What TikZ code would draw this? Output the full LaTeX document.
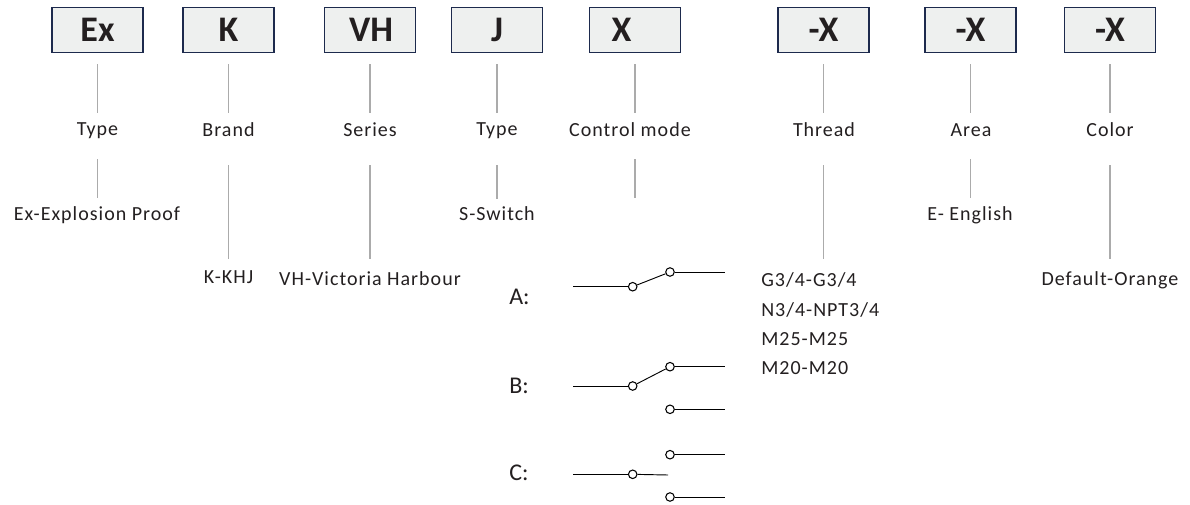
\documentclass[tikz,border=0pt]{standalone}
\usepackage{fontspec}
\setmainfont{Carlito}
\newfontfamily\spacedfont[LetterSpace=5]{Carlito}
\definecolor{boxfill}{HTML}{EEF0EF}
\definecolor{boxedge}{HTML}{1D2A4D}
\definecolor{inkdark}{HTML}{231F20}
\definecolor{leadgray}{HTML}{ABABAB}
\tikzset{
    codebox/.style={draw=boxedge, fill=boxfill, line width=1.1pt, minimum width=68pt, minimum height=34pt, inner sep=0pt},
    codetext/.style={anchor=base, text=inkdark, font=\fontsize{27}{27}\selectfont\bfseries, inner sep=0pt},
    labeltext/.style={anchor=base, text=inkdark, font=\fontsize{15}{18}\spacedfont, inner sep=0pt},
    leftlabel/.style={labeltext, anchor=base west},
    caselabel/.style={anchor=base west, text=inkdark, font=\fontsize{18}{18}\selectfont, inner sep=0pt},
    leadline/.style={draw=leadgray, line width=1pt},
    wireline/.style={draw=black, line width=0.7pt},
    contact/.style={circle, draw=black, fill=white, line width=0.8pt, minimum size=6.4pt, inner sep=0pt},
}
\begin{document}
\begin{tikzpicture}[x=0.75pt, y=-0.75pt]

    \useasboundingbox (0, 0) rectangle (1190, 504);

    % --- Code boxes ---
    \foreach \name/\x in {ex/97.5, k/228.5, vh/370, j/497, x/635, th/823.5, ar/970.5, co/1110} {
        \node[codebox] (box\name) at (\x, 30) {};
    }
    \node[codetext] (codeex) at (97.5, 41.7) {Ex};
    \node[codetext] (codek) at (228.5, 41.7) {K};
    \node[codetext] (codevh) at (371, 41.7) {VH};
    \node[codetext] (codej) at (497, 41.7) {J};
    \node[codetext] (codex) at (621.5, 41.7) {X};
    \node[codetext] (codeth) at (823.5, 41.7) {-X};
    \node[codetext] (codear) at (970.5, 41.7) {-X};
    \node[codetext] (codeco) at (1110, 41.7) {-X};

    % --- Upper leaders and headings ---
    \foreach \name/\x in {ex/97.5, k/228.5, vh/370, j/497, x/635, th/823.5, ar/970.5, co/1110} {
        \coordinate (up\name) at (\x, 64);
        \coordinate (mid\name) at (\x, 113);
        \draw[leadline] (up\name) -- (mid\name);
    }
    \node[labeltext] (headex) at (97.5, 135) {Type};
    \node[labeltext] (headk) at (228.5, 136.7) {Brand};
    \node[labeltext] (headvh) at (370, 136.7) {Series};
    \node[labeltext] (headj) at (497, 135) {Type};
    \node[labeltext] (headx) at (630, 136.7) {Control mode};
    \node[labeltext] (headth) at (824, 136.7) {Thread};
    \node[labeltext] (headar) at (971, 136.7) {Area};
    \node[labeltext] (headco) at (1110, 136.7) {Color};

    % --- Lower leaders (top, bottom) ---
    \foreach \name/\x/\ya/\yb in {ex/97.5/159/198, k/228.5/165/259, vh/370/165/259, j/497/165/199, x/635/159/198, th/823.5/165/259, ar/970.5/159/198, co/1110/165/259} {
        \coordinate (lowa\name) at (\x, \ya);
        \coordinate (lowb\name) at (\x, \yb);
        \draw[leadline] (lowa\name) -- (lowb\name);
    }

    % --- Option texts ---
    \node[labeltext] (optex) at (97, 220) {Ex-Explosion Proof};
    \node[labeltext] (optk) at (228.5, 283) {K-KHJ};
    \node[labeltext] (optvh) at (370, 285) {VH-Victoria Harbour};
    \node[labeltext] (optj) at (497, 220) {S-Switch};
    \node[labeltext] (optar) at (970, 220) {E- English};
    \node[labeltext] (optco) at (1110, 285) {Default-Orange};

    % Thread list
    \node[leftlabel] (optg) at (761, 286.7) {G3/4-G3/4};
    \node[leftlabel] (optn) at (761, 316) {N3/4-NPT3/4};
    \node[leftlabel] (optmb) at (761, 345) {M25-M25};
    \node[leftlabel] (optma) at (761, 374) {M20-M20};

    % --- Switch symbols ---
    \node[caselabel] (casea) at (509, 304) {A:};
    \node[caselabel] (caseb) at (509, 393) {B:};
    \node[caselabel] (casec) at (509, 480) {C:};

    % A: single contact
    \coordinate (ain) at (573, 286.7);
    \coordinate (aout) at (725, 272);
    \node[contact] (apivot) at (632.7, 286.7) {};
    \node[contact] (atop) at (670, 272) {};
    \draw[wireline] (ain) -- (apivot);
    \draw[wireline] (apivot) -- (atop);
    \draw[wireline] (atop) -- (aout);

    % B: lever on the upper contact
    \coordinate (bin) at (573, 386);
    \coordinate (bouta) at (725, 366.7);
    \coordinate (boutb) at (725, 409.3);
    \node[contact] (bpivot) at (632.7, 386) {};
    \node[contact] (btop) at (670, 366.7) {};
    \node[contact] (bbot) at (670, 409.3) {};
    \draw[wireline] (bin) -- (bpivot);
    \draw[wireline] (bpivot) -- (btop);
    \draw[wireline] (btop) -- (bouta);
    \draw[wireline] (bbot) -- (boutb);

    % C: lever between the contacts
    \coordinate (cin) at (573, 474.3);
    \coordinate (cend) at (668, 475);
    \coordinate (couta) at (725, 454.7);
    \coordinate (coutb) at (725, 497);
    \node[contact] (cpivot) at (632.7, 474.3) {};
    \node[contact] (ctop) at (670, 454.7) {};
    \node[contact] (cbot) at (670, 497) {};
    \draw[wireline] (cin) -- (cpivot);
    \draw[wireline] (cpivot) -- (cend);
    \draw[wireline] (ctop) -- (couta);
    \draw[wireline] (cbot) -- (coutb);

\end{tikzpicture}
\end{document}
